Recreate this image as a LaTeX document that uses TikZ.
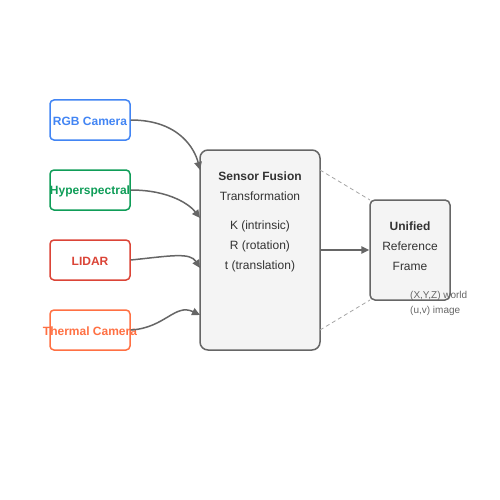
\documentclass[tikz,border=0pt]{standalone}
\usepackage{fontspec}
\setmainfont{Liberation Sans}
\usetikzlibrary{arrows.meta}
\definecolor{cblue}{HTML}{4285F4}
\definecolor{cgreen}{HTML}{0F9D58}
\definecolor{cred}{HTML}{DB4437}
\definecolor{corange}{HTML}{FF7043}
\definecolor{cgrey}{HTML}{666666}
\definecolor{cfill}{HTML}{F4F4F4}
\tikzset{
  src/.style={draw=#1, fill=white, line width=1.5pt, rounded corners=4pt,
    minimum width=80pt, minimum height=40pt, inner sep=0pt},
  srctext/.style={text=#1, inner sep=0pt, font=\bfseries\fontsize{12}{14}\selectfont},
  bigbox/.style={draw=cgrey, fill=cfill, line width=1.5pt, rounded corners=8pt, inner sep=0pt},
  conn/.style={draw=cgrey, line width=1.5pt, -{Triangle[length=8pt,width=7.5pt]}},
  dashln/.style={draw=black!35, line width=0.8pt, dash pattern=on 4pt off 3pt},
  txt/.style={font=\fontsize{12}{14}\selectfont, text=black!80},
  btxt/.style={font=\bfseries\fontsize{12}{14}\selectfont, text=black!80},
  small/.style={font=\fontsize{10}{12}\selectfont, text=cgrey, anchor=west, inner sep=0pt}
}
\begin{document}
\begin{tikzpicture}[x=1pt,y=-1pt]
\useasboundingbox (0,0) rectangle (500,500);
\node[src=cblue] (rgb) at (90,120) {};
\node[src=cgreen] (hyp) at (90,190) {};
\node[src=cred] (lid) at (90,260) {};
\node[src=corange] (thm) at (90,330) {};
\node[bigbox, minimum width=120pt, minimum height=200pt] (fus) at (260,250) {};
\node[bigbox, rounded corners=5pt, minimum width=80pt, minimum height=100pt] (uni) at (410,250) {};
\node[srctext=cblue] (rgbt) at (90,121) {RGB Camera};
\node[srctext=cgreen] (hypt) at (90,191) {Hyperspectral};
\node[srctext=cred] (lidt) at (90,261) {LIDAR};
\node[srctext=corange] (thmt) at (90,331) {Thermal Camera};
\node[btxt] (f1) at (260,176) {Sensor Fusion};
\node[txt] (f2) at (260,196) {Transformation};
\node[txt] (f3) at (260,226) {K (intrinsic)};
\node[txt] (f4) at (260,246) {R (rotation)};
\node[txt] (f5) at (260,266) {t (translation)};
\node[btxt] (u1) at (410,226) {Unified};
\node[txt] (u2) at (410,246) {Reference};
\node[txt] (u3) at (410,266) {Frame};
\node[small] (s1) at (410,296) {(X,Y,Z) world};
\node[small] (s2) at (410,311) {(u,v) image};
\coordinate (i1) at (200,170);
\coordinate (i2) at (200,218);
\coordinate (i3) at (200,268);
\coordinate (i4) at (200,315);
\coordinate (d1) at (320,170);
\coordinate (d2) at (320,330);
\coordinate (e1) at (370,200);
\coordinate (e2) at (370,300);
\draw[conn] (rgb.east) .. controls (180,120) and (195,150) .. (i1);
\draw[conn] (hyp.east) .. controls (170,190) and (190,205) .. (i2);
\draw[conn] (lid.east) .. controls (170,256) and (190,252) .. (i3);
\draw[conn] (thm.east) .. controls (165,328) and (175,303) .. (i4);
\draw[conn] (fus.east) -- (uni.west);
\draw[dashln] (d1) -- (e1);
\draw[dashln] (d2) -- (e2);
\end{tikzpicture}
\end{document}
